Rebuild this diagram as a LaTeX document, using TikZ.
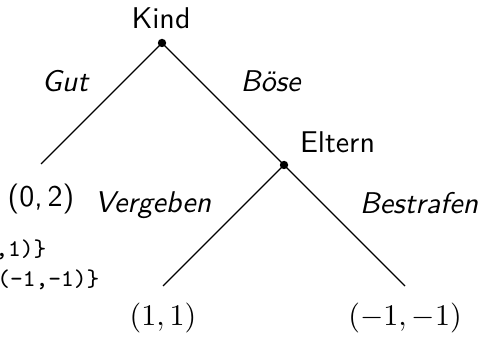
\documentclass[tikz,border=0pt]{standalone}
\usepackage{fontspec}
\begin{document}
\begin{tikzpicture}[x=0.33333pt,y=-0.33333pt,
  every node/.style={font=\sffamily},
  dot/.style={circle,fill=black,inner sep=0pt,minimum size=2.8pt},
  lbl/.style={anchor=base,inner sep=0pt},
  act/.style={anchor=base,inner sep=0pt,font=\sffamily\itshape},
  leaf/.style={anchor=north,inner xsep=0pt},
  code/.style={anchor=base east,inner sep=0pt,font=\ttfamily\footnotesize},
  edge/.style={line width=0.4pt}]
\useasboundingbox (0,0) rectangle (487,343);
% decision nodes
\node[dot] (kind) at (162,43) {};
\node[dot] (eltern) at (284,165) {};
\node[lbl] (kindlbl) at (161,29) {Kind};
\node[lbl] (elternlbl) at (337.5,153) {Eltern};
% leaves
\node[leaf,inner ysep=6.5pt] (l1) at (41,164) {\textsf{(0,\,2)}};
\node[leaf,inner ysep=5.3pt] (l2) at (163,286) {$(1,1)$};
\node[leaf,inner ysep=5.3pt] (l3) at (405,286) {$(-1,-1)$};
% edges
\draw[edge] (kind.center) -- (l1.north);
\draw[edge] (kind.center) -- (eltern.center);
\draw[edge] (eltern.center) -- (l2.north);
\draw[edge] (eltern.center) -- (l3.north);
% action labels
\node[act] (gut) at (65,92) {Gut};
\node[act] (boese) at (270.5,92) {Böse};
\node[act] (verg) at (153,213) {Vergeben};
\node[act] (bestr) at (419,214) {Bestrafen};
% stray code text
\node[code] (c1) at (47,257) {,1)\}};
\node[code] (c2) at (100,287) {(-1,-1)\}};
\end{tikzpicture}
\end{document}
